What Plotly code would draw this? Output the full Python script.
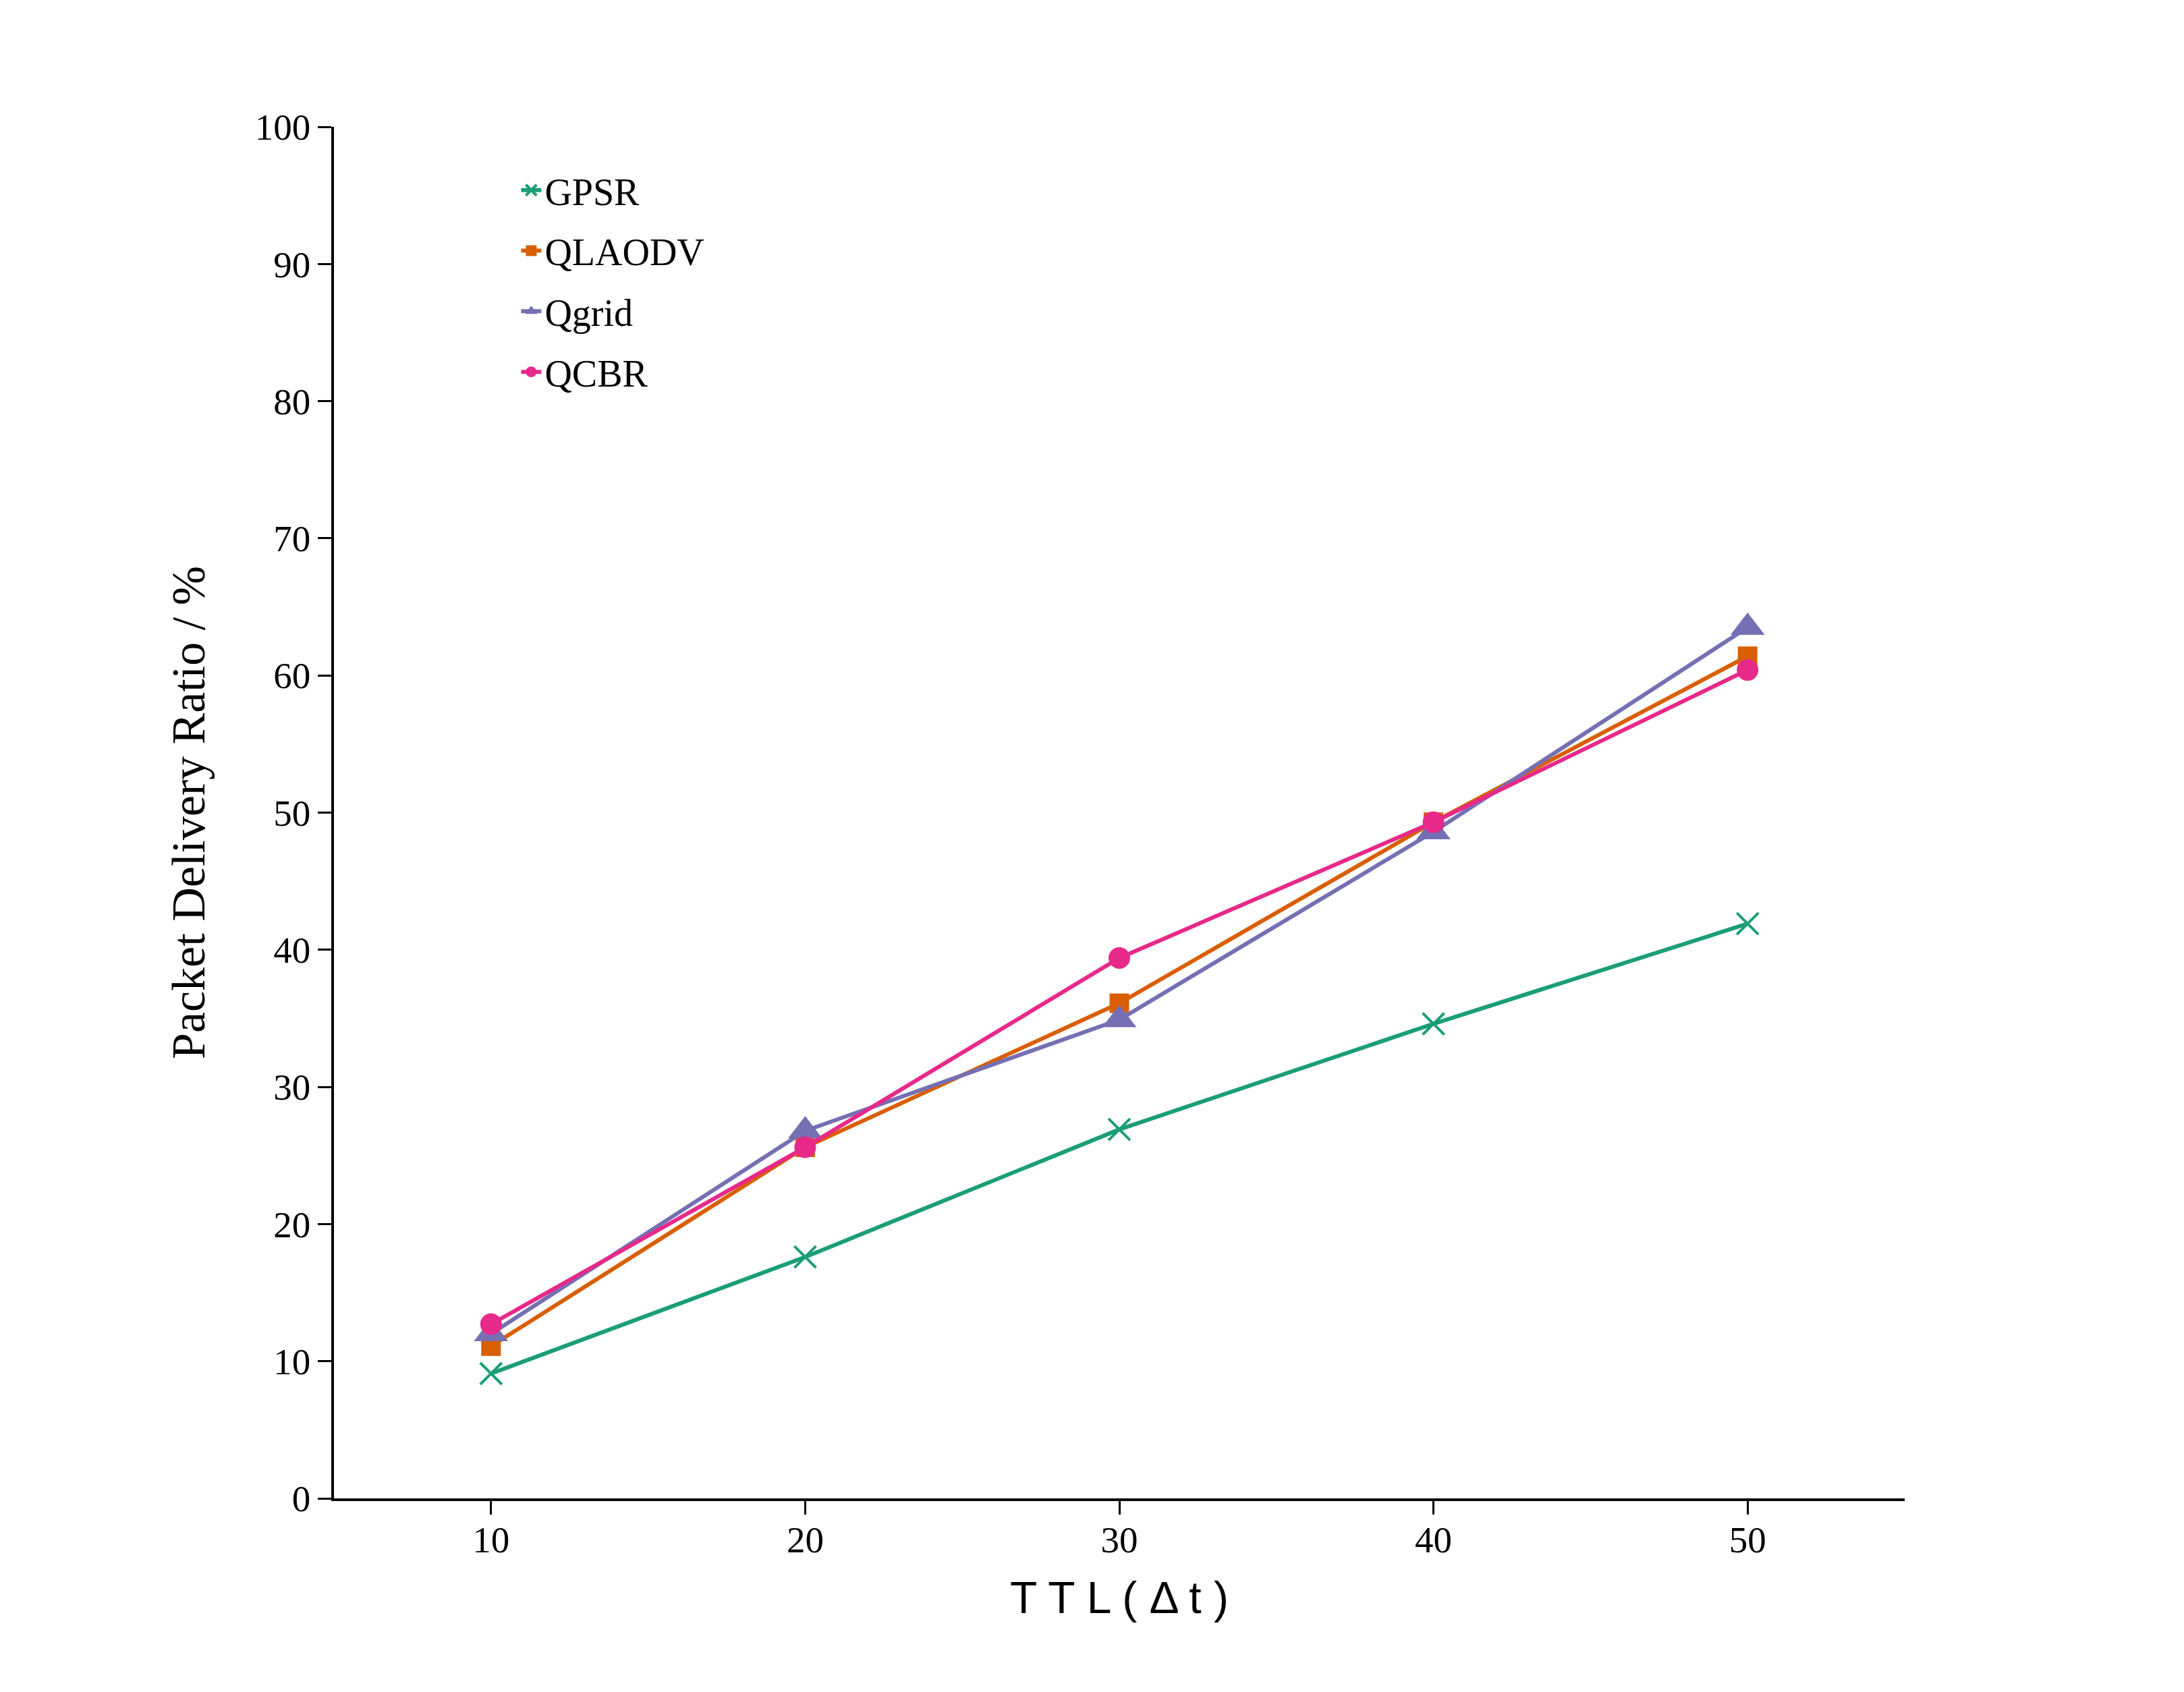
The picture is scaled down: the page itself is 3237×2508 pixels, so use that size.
import plotly.graph_objects as go

ttl = [10, 20, 30, 40, 50]
gpsr = [9.1, 17.6, 26.9, 34.6, 41.9]
qlaodv = [11.1, 25.6, 36.1, 49.3, 61.4]
qgrid = [12.0, 26.8, 34.9, 48.6, 63.5]
qcbr = [12.7, 25.6, 39.4, 49.3, 60.4]

x_ticks = [10, 20, 30, 40, 50]
y_ticks = [0, 10, 20, 30, 40, 50, 60, 70, 80, 90, 100]

series = [
    ("GPSR", gpsr, "#1b9e77", dict(symbol="x-thin", size=32, line=dict(width=4, color="#1b9e77"))),
    ("QLAODV", qlaodv, "#d95f02", dict(symbol="square", size=29)),
    ("Qgrid", qgrid, "#7570b3", dict(symbol="triangle-up", size=44)),
    ("QCBR", qcbr, "#e7298a", dict(symbol="circle", size=32)),
]

fig = go.Figure()
for name, vals, color, marker in series:
    fig.add_trace(go.Scatter(
        x=ttl, y=vals, name=name, legendgroup=name,
        mode="lines+markers",
        line=dict(color=color, width=6),
        marker=dict(color=color, **marker),
    ))

serif = "Liberation Serif, Times New Roman, serif"

# page body adds 8px, so margins are shifted to keep the plot where it belongs
fig.update_layout(
    width=3237, height=2508,
    margin=dict(l=487, r=422, t=180, b=295),
    paper_bgcolor="white", plot_bgcolor="white",
    font=dict(family=serif, size=54, color="black"),
    showlegend=True,
    legend=dict(
        x=0.117, y=0.975, xanchor="left", yanchor="top",
        font=dict(family=serif, size=56),
        bgcolor="rgba(0,0,0,0)",
        traceorder="grouped", tracegroupgap=14,
    ),
    xaxis=dict(
        range=[5, 55], tickvals=x_ticks,
        showgrid=False, zeroline=False,
        showline=True, linecolor="black", linewidth=3.5,
        ticks="outside", ticklen=20, tickwidth=3, tickcolor="black",
        tickfont=dict(family=serif, size=55),
        ticklabelstandoff=-10,
        title=dict(text="T T L ( Δ t )", standoff=34,
                   font=dict(family="Liberation Sans, Arial, sans-serif", size=66)),
    ),
    yaxis=dict(
        range=[0, 100], tickvals=y_ticks,
        showgrid=False, zeroline=False,
        showline=True, linecolor="black", linewidth=3.5,
        ticks="outside", ticklen=20, tickwidth=3, tickcolor="black",
        tickfont=dict(family=serif, size=55),
        title=dict(text="Packet Delivery Ratio / %", standoff=52,
                   font=dict(family=serif, size=70)),
    ),
)

fig.write_html("out.html")
